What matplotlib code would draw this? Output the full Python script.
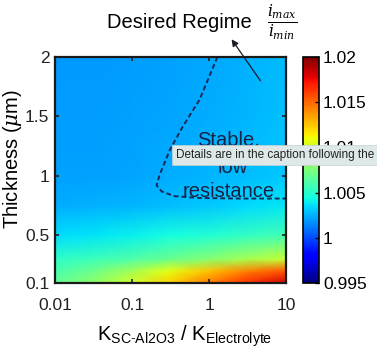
import numpy as np
import matplotlib
matplotlib.use("Agg")
import matplotlib.pyplot as plt
from matplotlib.colors import Normalize

plt.rcParams['font.family'] = ['Liberation Sans', 'DejaVu Sans']
plt.rcParams['mathtext.fontset'] = 'dejavuserif'

# ---- data ----
k_ratio = [0.01, 0.03, 0.1, 0.3, 1, 3, 10]
thickness = [0.1, 0.2, 0.3, 0.5, 0.75, 1.0, 1.5, 2.0]
imax_imin = [
    [1.0068, 1.0080, 1.0100, 1.0122, 1.0145, 1.0165, 1.0182],
    [1.0060, 1.0070, 1.0087, 1.0107, 1.0126, 1.0143, 1.0156],
    [1.0052, 1.0056, 1.0062, 1.0070, 1.0078, 1.0088, 1.0098],
    [1.0035, 1.0037, 1.0040, 1.0044, 1.0048, 1.0053, 1.0058],
    [1.0024, 1.0025, 1.0026, 1.0028, 1.0031, 1.0034, 1.0038],
    [1.0021, 1.0021, 1.0022, 1.0024, 1.0026, 1.0028, 1.0031],
    [1.0020, 1.0020, 1.0021, 1.0022, 1.0024, 1.0026, 1.0029],
    [1.0019, 1.0019, 1.0020, 1.0021, 1.0023, 1.0025, 1.0028],
]
boundary_k = [1.28, 0.75, 0.45, 0.31, 0.228, 0.208, 0.242, 0.356, 0.75, 2.47, 10]
boundary_t = [2.0, 1.64, 1.41, 1.22, 1.01, 0.92, 0.87, 0.83, 0.815, 0.81, 0.81]
xticks = [0.01, 0.1, 1, 10]
xticklabels = ['0.01', '0.1', '1', '10']
yticks = [0.1, 0.5, 1, 1.5, 2]
yticklabels = ['0.1', '0.5', '1', '1.5', '2']
cticks = [0.995, 1.0, 1.005, 1.01, 1.015, 1.02]
cticklabels = ['0.995', '1', '1.005', '1.01', '1.015', '1.02']

fig = plt.figure(figsize=(3.77, 3.56), dpi=100)
ax = fig.add_axes([0.146, 0.205, 0.613, 0.635])
cax = fig.add_axes([0.804, 0.205, 0.042, 0.635])

norm = Normalize(vmin=0.995, vmax=1.02)
X, Y = np.meshgrid(k_ratio, thickness)
mesh = ax.pcolormesh(X, Y, np.array(imax_imin), cmap='jet', norm=norm,
                     shading='gouraud')
ax.set_xscale('log')
ax.set_xlim(0.01, 10)
ax.set_ylim(0.1, 2)
ax.set_xticks(xticks)
ax.set_xticklabels(xticklabels)
ax.set_yticks(yticks)
ax.set_yticklabels(yticklabels)
ax.minorticks_off()
ax.tick_params(direction='in', length=3, width=1.2, top=True, right=True,
               labelsize=12.5, colors='#222222')
ax.tick_params(axis='x', pad=11)
ax.tick_params(axis='y', pad=4)
for s in ax.spines.values():
    s.set_linewidth(1.6)
    s.set_color('#1a1a1a')

ax.plot(boundary_k, boundary_t, linestyle=(0, (2.5, 1.5)), color='#1a2a55',
        lw=1.4)

txt_kw = dict(ha='center', va='center', fontsize=14.5, color='#1a2244')
ax.text(1.78, 1.30, 'Stable,', **txt_kw)
ax.text(2.0, 1.07, 'low', **txt_kw)
ax.text(1.8, 0.87, 'resistance', **txt_kw)

ax.set_xlabel(r'K$_{\mathregular{SC\text{-}Al2O3}}$ / K$_{\mathregular{Electrolyte}}$',
              fontsize=14.5)
ax.xaxis.set_label_coords(0.56, -0.235)
ax.xaxis.label.set_va('center')
ax.set_ylabel(r'Thickness ($\mu$m)', fontsize=14.5)
ax.yaxis.set_label_coords(-0.186, 0.55)
ax.yaxis.label.set_va('center')

cb = fig.colorbar(mesh, cax=cax, ticks=cticks)
cb.ax.set_yticklabels(cticklabels)
cb.ax.tick_params(labelsize=12.5, length=3, width=1, direction='in', pad=3)
cb.outline.set_linewidth(1.2)

fig.text(0.475, 0.938, 'Desired Regime', ha='center', va='center',
         fontsize=14.5)
fig.text(0.748, 0.938, r'$\frac{i_{max}}{i_{min}}$', ha='center',
         va='center', fontsize=16)

fig.add_artist(matplotlib.patches.FancyArrowPatch(
    (262 / 377, 1 - 83 / 356), (230 / 377, 1 - 37 / 356),
    transform=fig.transFigure, arrowstyle='-|>', mutation_scale=10,
    color='#1a1a2a', lw=0.9))

fig.text(176 / 377, 1 - 155 / 356, 'Details are in the caption following the',
         ha='left', va='center', fontsize=8.5, color='#222222',
         bbox=dict(boxstyle='square,pad=0.35', fc='#dfe8e8', ec='#c8d0d0',
                   lw=0.5))

fig.savefig('out.png', dpi=100)
